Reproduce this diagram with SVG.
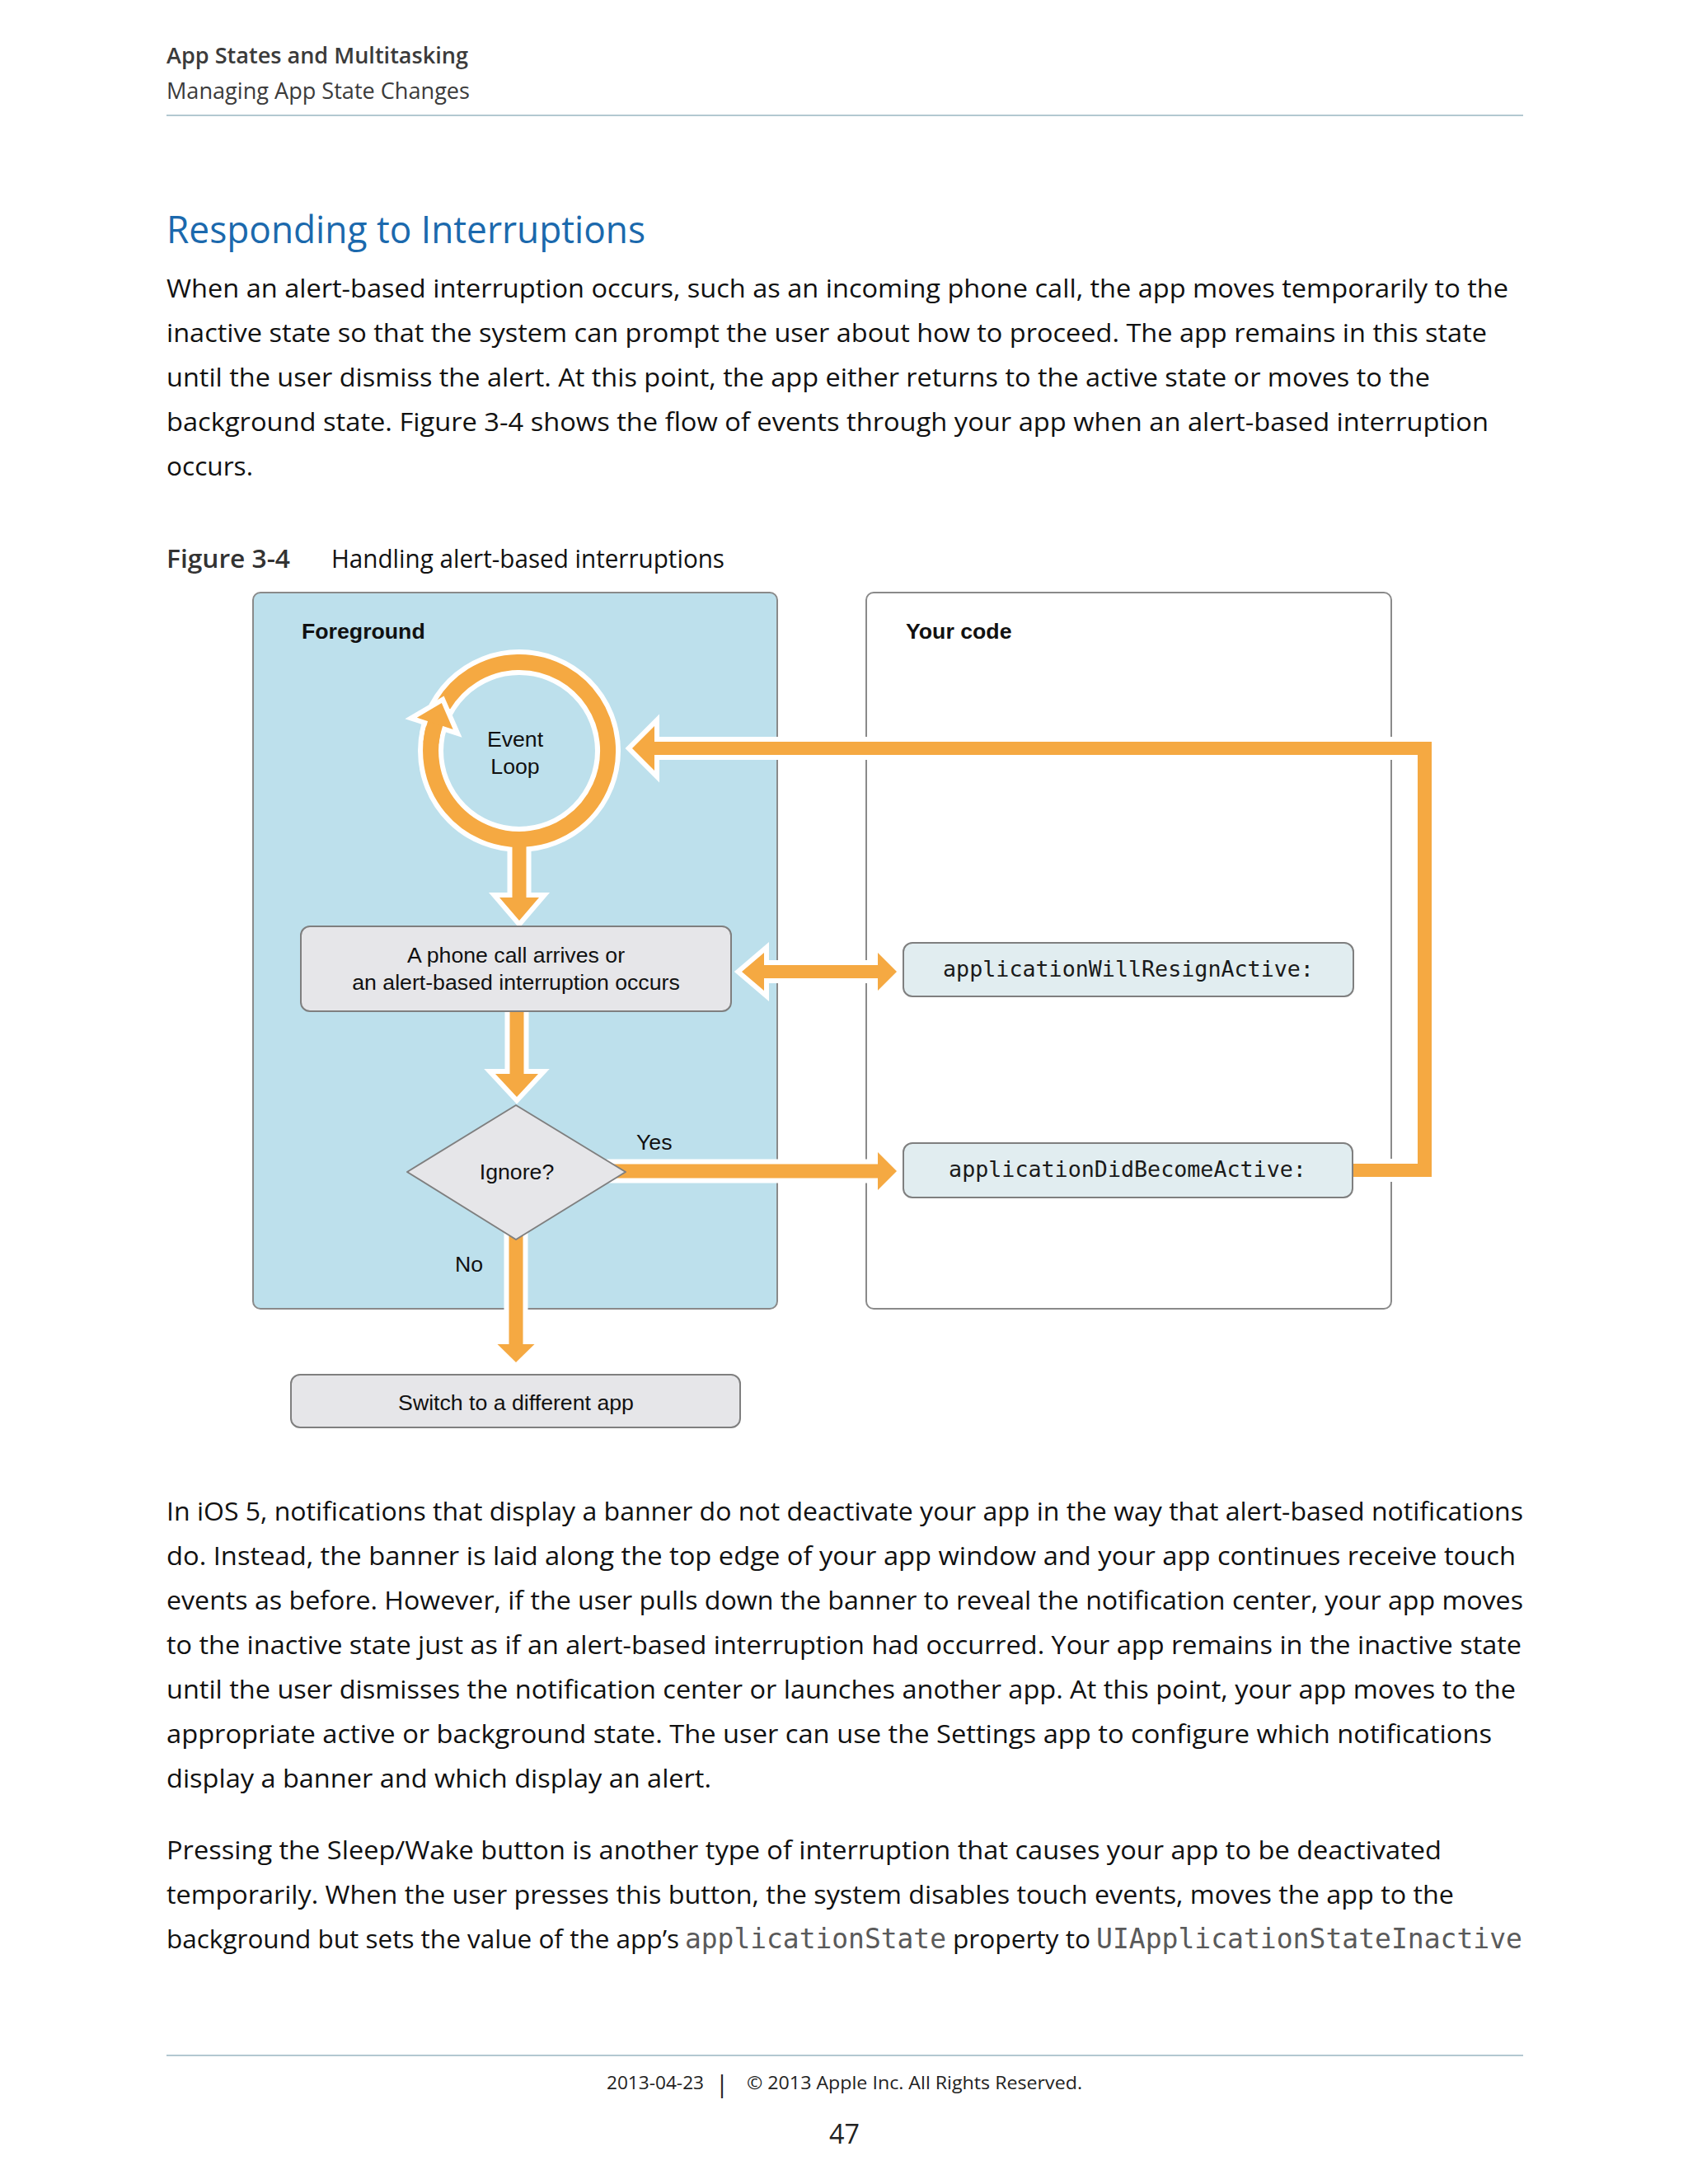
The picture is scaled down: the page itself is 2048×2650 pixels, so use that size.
<svg xmlns="http://www.w3.org/2000/svg" width="2048" height="2650" viewBox="0 0 2048 2650">
<style>
.hd{font-family:"Open Sans","Noto Sans",sans-serif;font-size:27px;fill:#3b3b3b}
.bd{font-family:"Open Sans","Noto Sans",sans-serif;font-size:31px;fill:#111}
.mono{font-family:"DejaVu Sans Mono","Liberation Mono",monospace;font-size:33px;fill:#5a5a5a}
.ft{font-family:"Open Sans","Noto Sans",sans-serif;font-size:22px;fill:#222}
.dg{font-family:"Liberation Sans",Arial,sans-serif;font-size:26.7px;fill:#111}
.dgb{font-family:"Liberation Sans",Arial,sans-serif;font-size:26.7px;font-weight:bold;fill:#111}
.code{font-family:"DejaVu Sans Mono","Liberation Mono",monospace;font-size:26.7px;fill:#1a1a1a}
.rule{stroke:#b3c8d1;stroke-width:2}
.halo{fill:#fff;stroke:#fff;stroke-width:12;stroke-linejoin:miter}
.or{fill:#f5a942}
.node{fill:#e6e6e9;stroke:#7f7f7f;stroke-width:2}
.cnode{fill:#e1edf0;stroke:#7f7f7f;stroke-width:2}
</style>
<rect width="2048" height="2650" fill="#fff"/>
<g id="page-header">
<text class="hd" x="202" y="77" font-weight="600" textLength="366" lengthAdjust="spacingAndGlyphs">App States and Multitasking</text>
<text class="hd" x="202" y="120" textLength="368" lengthAdjust="spacingAndGlyphs">Managing App State Changes</text>
<line class="rule" x1="202" y1="140" x2="1848" y2="140"/>
</g>
<g id="intro">
<text x="202" y="295" font-family="'Open Sans','Noto Sans',sans-serif" font-size="46" fill="#1b69ad" textLength="581" lengthAdjust="spacingAndGlyphs">Responding to Interruptions</text>
<text class="bd" x="202" y="361" textLength="1628" lengthAdjust="spacingAndGlyphs">When an alert-based interruption occurs, such as an incoming phone call, the app moves temporarily to the</text>
<text class="bd" x="202" y="415" textLength="1602" lengthAdjust="spacingAndGlyphs">inactive state so that the system can prompt the user about how to proceed. The app remains in this state</text>
<text class="bd" x="202" y="469" textLength="1533" lengthAdjust="spacingAndGlyphs">until the user dismiss the alert. At this point, the app either returns to the active state or moves to the</text>
<text class="bd" x="202" y="523" textLength="1604" lengthAdjust="spacingAndGlyphs">background state. Figure 3-4 shows the flow of events through your app when an alert-based interruption</text>
<text class="bd" x="202" y="577" textLength="105" lengthAdjust="spacingAndGlyphs">occurs.</text>
<text class="bd" x="202" y="689" font-weight="600" style="fill:#333" textLength="150" lengthAdjust="spacingAndGlyphs">Figure 3-4</text>
<text class="bd" x="402" y="689" textLength="477" lengthAdjust="spacingAndGlyphs">Handling alert-based interruptions</text>
</g>
<g id="foreground">
<rect x="307" y="719" width="636" height="869" rx="9" fill="#bde0ec" stroke="#8a8a8a" stroke-width="2"/>
<text class="dgb" x="366" y="775">Foreground</text>
</g>
<g id="your-code">
<rect x="1051" y="719" width="637" height="869" rx="9" fill="#fff" stroke="#8a8a8a" stroke-width="2"/>
<text class="dgb" x="1099" y="775">Your code</text>
</g>
<g id="event-loop">
<circle cx="630" cy="911" r="107.5" fill="none" stroke="#fff" stroke-width="31"/>
<path d="M537.9 855.6 A107.5 107.5 0 1 1 527.8 877.8" fill="none" stroke="#f5a942" stroke-width="19"/>
<polygon class="halo" points="505.9,870.7 535.8,853.1 549.7,884.9"/>
<path d="M522.9 901.6 A107.5 107.5 0 0 1 528.5 876.5" fill="none" stroke="#f5a942" stroke-width="19"/>
<polygon class="or" points="505.9,870.7 535.8,853.1 549.7,884.9"/>
<text class="dg" x="625" y="906" text-anchor="middle">Event</text>
<text class="dg" x="625" y="939" text-anchor="middle">Loop</text>
</g>
<g id="connectors">
<path class="halo" d="M621.5 1035 H638.5 V1089 H654 L630 1117 L606 1089 H621.5 Z"/>
<path class="or" d="M621.5 1024 H638.5 V1089 H654 L630 1117 L606 1089 H621.5 Z"/>
<path class="halo" d="M618.5 1222 H635.5 V1303 H653 L627 1331 L601 1303 H618.5 Z"/>
<path class="or" d="M618.5 1222 H635.5 V1303 H653 L627 1331 L601 1303 H618.5 Z"/>
<path class="halo" d="M617.5 1496 H634.5 V1631 H648.5 L626 1653 L603.5 1631 H617.5 Z"/>
<path class="or" d="M617.5 1496 H634.5 V1631 H648.5 L626 1653 L603.5 1631 H617.5 Z"/>
<path class="halo" d="M742 1412.5 H1065 V1398 L1088 1421 L1065 1444 V1429.5 H742 Z"/>
<path class="or" d="M742 1412.5 H1065 V1398 L1088 1421 L1065 1444 V1429.5 H742 Z"/>
<path class="halo" d="M900 1179 L927 1156 V1171 H1065 V1156 L1088 1179 L1065 1202 V1187 H927 V1202 Z"/>
<path class="or" d="M900 1179 L927 1156 V1171 H1065 V1156 L1088 1179 L1065 1202 V1187 H927 V1202 Z"/>
<path class="halo" d="M1636 1412 H1720 V916 H794 V935 L767 908 L794 881 V900 H1737 V1428 H1636 Z"/>
<path class="or" d="M1636 1412 H1720 V916 H794 V935 L767 908 L794 881 V900 H1737 V1428 H1636 Z"/>
</g>
<g id="phone-call">
<rect class="node" x="365" y="1124" width="522" height="103" rx="11"/>
<text class="dg" x="626" y="1168" text-anchor="middle">A phone call arrives or</text>
<text class="dg" x="626" y="1201" text-anchor="middle">an alert-based interruption occurs</text>
</g>
<g id="ignore">
<polygon class="node" points="626,1341 759,1422 626,1504 494,1422" stroke-linejoin="round"/>
<text class="dg" x="627" y="1431" text-anchor="middle">Ignore?</text>
<text class="dg" x="772" y="1395">Yes</text>
<text class="dg" x="552" y="1543">No</text>
</g>
<g id="switch-app">
<rect class="node" x="353" y="1668" width="545" height="64" rx="11"/>
<text class="dg" x="626" y="1711" text-anchor="middle">Switch to a different app</text>
</g>
<g id="will-resign">
<rect class="cnode" x="1096" y="1144" width="546" height="65" rx="11"/>
<text class="code" x="1369" y="1185" text-anchor="middle">applicationWillResignActive:</text>
</g>
<g id="did-become">
<rect class="cnode" x="1096" y="1387" width="545" height="66" rx="11"/>
<text class="code" x="1368" y="1428" text-anchor="middle">applicationDidBecomeActive:</text>
</g>
<g id="body">
<text class="bd" x="202" y="1845" textLength="1646" lengthAdjust="spacingAndGlyphs">In iOS 5, notifications that display a banner do not deactivate your app in the way that alert-based notifications</text>
<text class="bd" x="202" y="1899" textLength="1637" lengthAdjust="spacingAndGlyphs">do. Instead, the banner is laid along the top edge of your app window and your app continues receive touch</text>
<text class="bd" x="202" y="1953" textLength="1646" lengthAdjust="spacingAndGlyphs">events as before. However, if the user pulls down the banner to reveal the notification center, your app moves</text>
<text class="bd" x="202" y="2007" textLength="1644" lengthAdjust="spacingAndGlyphs">to the inactive state just as if an alert-based interruption had occurred. Your app remains in the inactive state</text>
<text class="bd" x="202" y="2061" textLength="1637" lengthAdjust="spacingAndGlyphs">until the user dismisses the notification center or launches another app. At this point, your app moves to the</text>
<text class="bd" x="202" y="2115" textLength="1608" lengthAdjust="spacingAndGlyphs">appropriate active or background state. The user can use the Settings app to configure which notifications</text>
<text class="bd" x="202" y="2169" textLength="661" lengthAdjust="spacingAndGlyphs">display a banner and which display an alert.</text>
<text class="bd" x="202" y="2256" textLength="1547" lengthAdjust="spacingAndGlyphs">Pressing the Sleep/Wake button is another type of interruption that causes your app to be deactivated</text>
<text class="bd" x="202" y="2310" textLength="1562" lengthAdjust="spacingAndGlyphs">temporarily. When the user presses this button, the system disables touch events, moves the app to the</text>
<text class="bd" x="202" y="2364" textLength="622" lengthAdjust="spacingAndGlyphs">background but sets the value of the app’s</text>
<text class="mono" x="831" y="2364" textLength="317" lengthAdjust="spacingAndGlyphs">applicationState</text>
<text class="bd" x="1156" y="2364" textLength="167" lengthAdjust="spacingAndGlyphs">property to</text>
<text class="mono" x="1330" y="2364" textLength="517" lengthAdjust="spacingAndGlyphs">UIApplicationStateInactive</text>
</g>
<g id="footer">
<line class="rule" x1="202" y1="2494" x2="1848" y2="2494"/>
<text class="ft" x="736" y="2535" textLength="118" lengthAdjust="spacingAndGlyphs">2013-04-23</text>
<text class="ft" x="876" y="2539" text-anchor="middle" style="font-size:30px">|</text>
<text class="ft" x="906" y="2535" textLength="407" lengthAdjust="spacingAndGlyphs">© 2013 Apple Inc. All Rights Reserved.</text>
<text class="ft" x="1006" y="2601" style="font-size:32px" textLength="37" lengthAdjust="spacingAndGlyphs">47</text>
</g>
</svg>
